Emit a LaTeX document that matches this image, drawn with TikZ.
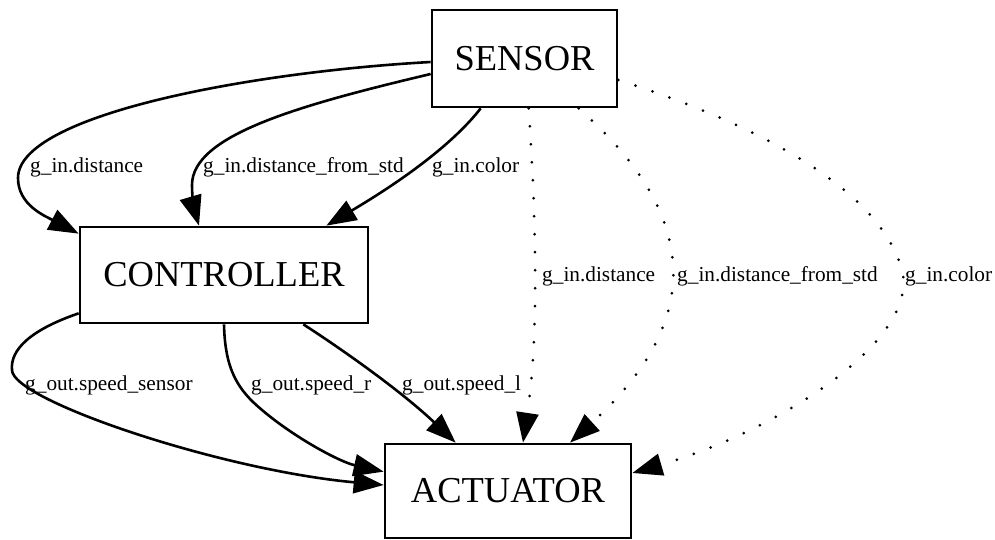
\documentclass[tikz,border=0pt]{standalone}
\usepackage{fontspec}
\setmainfont{Liberation Serif}
\usetikzlibrary{arrows.meta,calc}
\begin{document}
\begin{tikzpicture}[x=1pt,y=-1pt,
  box/.style={draw,line width=2.7pt,inner sep=0pt,font=\fontsize{36.5}{40}\selectfont},
  edge/.style={line width=2.6pt,-{Triangle[length=30pt,width=22pt]}},
  dotedge/.style={edge,line width=3pt,line cap=round,dash pattern=on 0pt off 18pt},
  lbl/.style={anchor=base west,inner sep=0pt,font=\fontsize{21.3}{24}\selectfont}]
\useasboundingbox (0,0) rectangle (995,540);
\node[box,minimum width=185pt,minimum height=97pt] (S) at (524.5,58.5) {SENSOR};
\node[box,minimum width=288pt,minimum height=96pt] (C) at (224,275) {CONTROLLER};
\node[box,minimum width=246pt,minimum height=94pt] (A) at (508,491) {ACTUATOR};
% SENSOR -> CONTROLLER
\draw[edge] ($(S.west)+(0,3.5)$) .. controls (250,72) and (18,115) .. (18,178)
   .. controls (18,205) and (45,216) .. ($(C.north west)+(0,8)$);
\draw[edge] ($(S.west)+(0,15.5)$) .. controls (300,105) and (192,135) .. (192,185)
   .. controls (192,200) and (195,212) .. ($(C.north)+(-25,0)$);
\draw[edge] ($(S.south west)+(50,0)$) .. controls (460,135) and (420,170) .. ($(C.north east)+(-43,0)$);
% CONTROLLER -> ACTUATOR
\draw[edge] ($(C.south west)+(0,-11)$) .. controls (30,330) and (10,350) .. (12,370)
   .. controls (12,400) and (220,470) .. ($(A.west)+(0,-6)$);
\draw[edge] (C.south) .. controls (225,370) and (238,390) .. (262,410)
   .. controls (295,438) and (340,462) .. ($(A.north west)+(0,29)$);
\draw[edge] ($(C.south east)+(-66,0)$) .. controls (340,348) and (400,390) .. ($(A.north west)+(72,0)$);
% SENSOR -> ACTUATOR (dotted)
\draw[dotedge] ($(S.south west)+(98,0)$) .. controls (535,200) and (540,330) .. ($(A.north)+(15,0)$);
\draw[dotedge] ($(S.south west)+(148,0)$) .. controls (700,215) and (705,320) .. ($(A.north)+(62,0)$);
\draw[dotedge] ($(S.east)+(0,21.5)$) .. controls (760,125) and (880,190) .. (902,270)
   .. controls (920,340) and (780,430) .. ($(A.east)+(0,-18)$);
% labels
\node[lbl] (l1) at (30,172.5) {g\_in.distance};
\node[lbl] (l2) at (203,172.5) {g\_in.distance\_from\_std};
\node[lbl] (l3) at (432,172.5) {g\_in.color};
\node[lbl] (l4) at (542,281.5) {g\_in.distance};
\node[lbl] (l5) at (677,281.5) {g\_in.distance\_from\_std};
\node[lbl] (l6) at (905,281.5) {g\_in.color};
\node[lbl] (l7) at (25,390) {g\_out.speed\_sensor};
\node[lbl] (l8) at (251,390) {g\_out.speed\_r};
\node[lbl] (l9) at (402,390) {g\_out.speed\_l};
\end{tikzpicture}
\end{document}
